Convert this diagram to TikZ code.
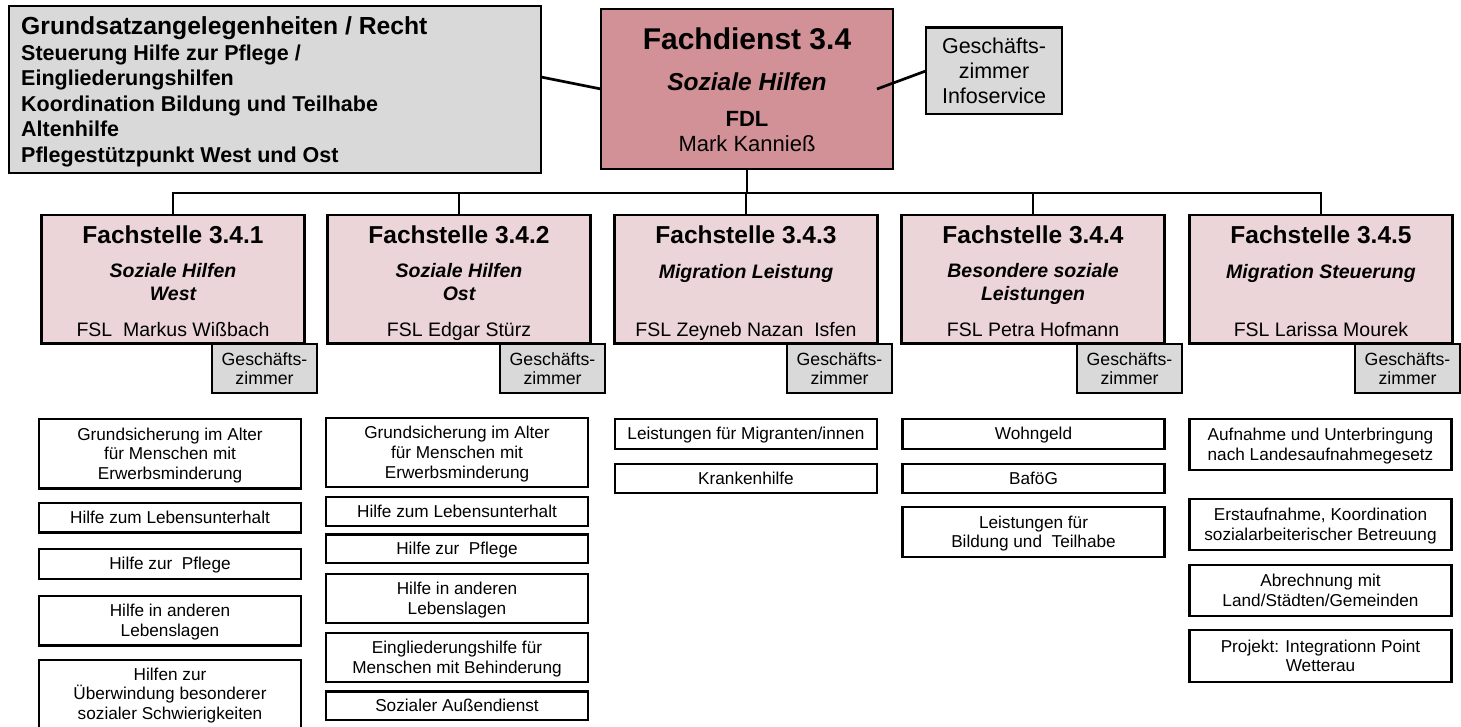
\documentclass[tikz,border=0pt]{standalone}
\usepackage{fontspec}
\setmainfont{Liberation Sans}
\usetikzlibrary{calc}
\newcommand\pptop{\rule{0pt}{0.905em}}
\newcommand\ppbot{\rule[-0.212em]{0pt}{0.212em}}
\definecolor{fdfill}{RGB}{210,145,150}
\definecolor{fsfill}{RGB}{236,213,216}
\definecolor{gzfill}{RGB}{217,217,217}
\newcommand\fstelle[6]{%
  \node[fsbox] (#1) at (#2,279.25) {};
  \node[lbl,font=\fontsize{24.5}{29}\selectfont\bfseries] (#1t) at (#2,244) {#3};
  \node[lbl,font=\fontsize{19.5}{23.5}\selectfont\bfseries\itshape] (#1s) at (#2,#5) {\parbox[t]{250pt}{\centering #4}};
  \node[lbl,font=\fontsize{19.5}{23.5}\selectfont] (#1n) at (#2,336) {#6};
}
\newcommand\ibx[5]{\node[ibox,minimum height={#4-#3}] (#1) at (#2,{(#3+#4)/2}) {\pptop #5\ppbot};}
\begin{document}
\begin{tikzpicture}[x=1pt,y=-1pt,
  box/.style={draw=black,line width=2.7pt,rectangle,inner sep=0pt,outer sep=0pt},
  ibox/.style={box,fill=white,minimum width=262pt,align=center,font=\fontsize{17.2}{19.8}\selectfont},
  gzbox/.style={box,fill=gzfill,minimum width=105pt,minimum height=49pt,align=center,font=\fontsize{17.7}{19}\selectfont},
  fsbox/.style={box,fill=fsfill,minimum width=263pt,minimum height=128.5pt},
  lbl/.style={inner sep=0pt,anchor=base},
  conn/.style={line width=2.7pt}
]
\useasboundingbox (0,0) rectangle (1461,727);
\clip (0,0) rectangle (1461,727);

% top level
\node[box,fill=gzfill,minimum width=532pt,minimum height=167pt] (grund) at (275,89.5) {};
\node[inner sep=0pt,anchor=base west] (grundtxt) at (21,35) {\parbox[t]{515pt}{\raggedright\fontsize{21.5}{25.5}\selectfont\bfseries
  {\fontsize{24.7}{25.5}\selectfont Grundsatzangelegenheiten / Recht}\\
  Steuerung Hilfe zur Pflege /\\
  Eingliederungshilfen\\
  Koordination Bildung und Teilhabe\\
  Altenhilfe\\
  Pflegestützpunkt West und Ost}};

\node[box,fill=fdfill,minimum width=292pt,minimum height=160pt] (fd) at (747,89) {};
\node[lbl,font=\fontsize{30}{36}\selectfont\bfseries] (fdt) at (747,50) {Fachdienst 3.4};
\node[lbl,font=\fontsize{24.5}{29}\selectfont\bfseries\itshape] (fds) at (747,90.7) {Soziale Hilfen};
\node[lbl,font=\fontsize{22}{26}\selectfont\bfseries] (fdl) at (747,127) {FDL};
\node[lbl,font=\fontsize{22}{26}\selectfont] (fdn) at (747,152) {Mark Kannieß};

\node[box,fill=gzfill,minimum width=136pt,minimum height=86.3pt,align=center,font=\fontsize{21.5}{25}\selectfont] (gz0) at (994,70.9) {\pptop Geschäfts-\\zimmer\\Infoservice\ppbot};

% Fachstellen
\fstelle{fs1}{173}{Fachstelle 3.4.1}{Soziale Hilfen\\West}{277}{FSL\ \ Markus Wißbach}
\fstelle{fs2}{459}{Fachstelle 3.4.2}{Soziale Hilfen\\Ost}{277}{FSL Edgar Stürz}
\fstelle{fs3}{746}{Fachstelle 3.4.3}{Migration Leistung}{278.5}{FSL Zeyneb Nazan\ \ Isfen}
\fstelle{fs4}{1033}{Fachstelle 3.4.4}{Besondere soziale\\Leistungen}{277}{FSL Petra Hofmann}
\fstelle{fs5}{1321}{Fachstelle 3.4.5}{Migration Steuerung}{278.5}{FSL Larissa Mourek}

\node[gzbox] (gz1) at (264.5,368.5) {\pptop Geschäfts-\\zimmer\ppbot};
\node[gzbox] (gz2) at (552.5,368.5) {\pptop Geschäfts-\\zimmer\ppbot};
\node[gzbox] (gz3) at (839.5,368.5) {\pptop Geschäfts-\\zimmer\ppbot};
\node[gzbox] (gz4) at (1129.5,368.5) {\pptop Geschäfts-\\zimmer\ppbot};
\node[gzbox] (gz5) at (1407.5,368.5) {\pptop Geschäfts-\\zimmer\ppbot};

% connectors
\draw[conn] ($(grund.east)+(0,-12.5)$) -- (fd.west);
\coordinate (fdr) at ($(fd.east)+(-16,0)$);
\draw[conn] (fdr) -- (gz0.west);
\coordinate (bus) at (747,193);
\draw[conn] (fd.south) -- (fd.south |- bus);
\draw[conn] (fs1.north) -- (fs1.north |- bus) -- (fs5.north |- bus) -- (fs5.north);
\draw[conn] (fs2.north) -- (fs2.north |- bus);
\draw[conn] (fs3.north) -- (fs3.north |- bus);
\draw[conn] (fs4.north) -- (fs4.north |- bus);

% column 1
\ibx{a1}{170}{419}{488.7}{Grundsicherung im Alter\\für Menschen mit\\Erwerbsminderung}
\ibx{a2}{170}{503}{532.7}{Hilfe zum Lebensunterhalt}
\ibx{a3}{170}{549}{579}{Hilfe zur\ \ Pflege}
\ibx{a4}{170}{596}{645.7}{Hilfe in anderen\\Lebenslagen}
\ibx{a5}{170}{660}{728}{Hilfen zur\\Überwindung besonderer\\sozialer Schwierigkeiten}
% column 2
\ibx{b1}{457}{418}{487}{Grundsicherung im Alter\\für Menschen mit\\Erwerbsminderung}
\ibx{b2}{457}{497}{526}{Hilfe zum Lebensunterhalt}
\ibx{b3}{457}{534.5}{563}{Hilfe zur\ \ Pflege}
\ibx{b4}{457}{574}{623}{Hilfe in anderen\\Lebenslagen}
\ibx{b5}{457}{633}{682}{Eingliederungshilfe für\\Menschen mit Behinderung}
\ibx{b6}{457}{691.5}{720}{Sozialer Außendienst}
% column 3
\ibx{c1}{746}{419}{449}{Leistungen für Migranten/innen}
\ibx{c2}{746}{464}{493}{Krankenhilfe}
% column 4
\ibx{d1}{1033.5}{419}{449}{Wohngeld}
\ibx{d2}{1033.5}{464}{493}{BaföG}
\ibx{d3}{1033.5}{507}{557}{Leistungen für\\Bildung und\ \ Teilhabe}
% column 5
\ibx{e1}{1320.5}{419}{470}{Aufnahme und Unterbringung\\nach Landesaufnahmegesetz}
\ibx{e2}{1320.5}{499}{550}{Erstaufnahme, Koordination\\sozialarbeiterischer Betreuung}
\ibx{e3}{1320.5}{565}{616}{Abrechnung mit\\Land/Städten/Gemeinden}
\ibx{e4}{1320.5}{630}{682}{Projekt: Integrationn Point\\Wetterau}
\end{tikzpicture}
\end{document}
